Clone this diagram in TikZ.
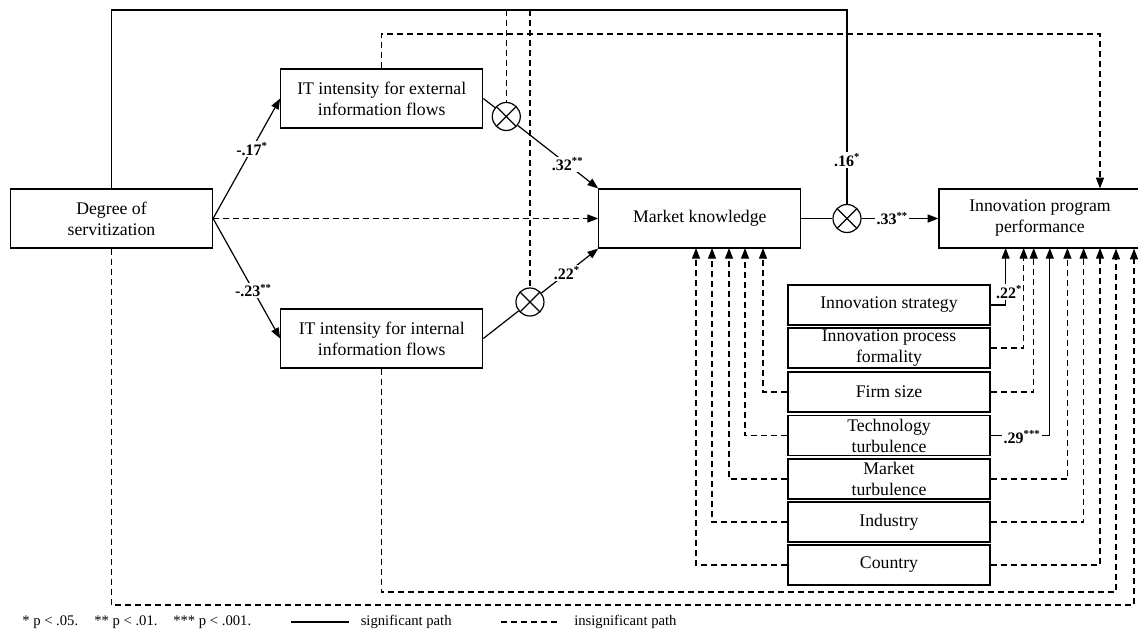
\documentclass[tikz,border=0pt]{standalone}
\usepackage{fontspec}
\setmainfont{Liberation Serif}
\usetikzlibrary{arrows.meta,calc}
\begin{document}
\begin{tikzpicture}[x=0.75pt,y=-0.75pt,
  box/.style={draw,line width=0.9pt,minimum width=151.5pt,minimum height=44.25pt,inner sep=0pt,align=center,font=\fontsize{13.3}{15.75}\selectfont},
  cbox/.style={box,minimum height=30pt},
  conn/.style={line width=0.9pt},
  dconn/.style={conn,dash pattern=on 4.5pt off 3pt},
  arr/.style={-{Triangle[length=8pt,width=6pt]}},
  lab/.style={fill=white,inner sep=1pt,font=\fontsize{12}{14}\selectfont\bfseries},
  mult/.style={draw,circle,line width=0.9pt,minimum size=21pt,inner sep=0pt,
    path picture={\draw[line width=0.9pt] (path picture bounding box.north west)--(path picture bounding box.south east) (path picture bounding box.south west)--(path picture bounding box.north east);}},
  leg/.style={font=\fontsize{11}{13}\selectfont,anchor=west,inner sep=0pt}
]
\useasboundingbox (0,0) rectangle (1138,631);

% main boxes
\node[box] (deg) at (111.5,218.5) {Degree of\\servitization};
\node[box] (ext) at (381.75,98.5) {IT intensity for external\\information flows};
\node[box] (int) at (381.75,338.5) {IT intensity for internal\\information flows};
\node[box] (mk) at (699.75,218.5) {Market knowledge};
\node[box] (ipp) at (1040,218.5) {Innovation program\\performance};

% control boxes
\node[cbox] (is)  at (889,305)   {Innovation strategy};
\node[cbox] (ipf) at (889,348)   {Innovation process\\formality};
\node[cbox] (fs)  at (889,392)   {Firm size};
\node[cbox] (tt)  at (889,435.5) {Technology\\turbulence};
\node[cbox] (mt)  at (889,479)   {Market\\turbulence};
\node[cbox] (ind) at (889,522)   {Industry};
\node[cbox] (cty) at (889,565)   {Country};

% moderator circles
\node[mult] (c1) at ($(ext.east)!0.2!(mk.north west)$) {};
\node[mult] (c2) at ($(int.east)!0.406!(mk.south west)$) {};
\node[mult] (c3) at (847,218.5) {};

% helper coordinates
\coordinate (tl) at (0,10);
\coordinate (dl) at (0,34);
\coordinate (ipx1) at (1100,0);
\coordinate (b1) at (1134,605);
\coordinate (b2) at (1116,592);

% top lines
\draw[conn] (deg.north) -- (deg.north |- tl) -- (c3.north |- tl) -- (c3.north);
\node[lab] at (847,160) {.16\textsuperscript{*}};
\draw[dconn] (c1.north |- tl) -- (c1.north);
\draw[dconn] (c2.north |- tl) -- (c2.north);
\draw[dconn,arr] (ext.north) -- (ext.north |- dl) -- (ipx1 |- dl) -- (ipx1 |- ipp.north);

% bottom lines
\draw[dconn,arr] (deg.south) -- (deg.south |- b1) -- (b1) -- (b1 |- ipp.south);
\draw[dconn,arr] (int.south) -- (int.south |- b2) -- (b2) -- (b2 |- ipp.south);

% main paths
\draw[conn,arr] (deg.east) -- node[lab,pos=0.58]{-.17\textsuperscript{*}} (ext.west);
\draw[conn,arr] (deg.east) -- node[lab,pos=0.6]{-.23\textsuperscript{**}} (int.west);
\draw[dconn,arr] (deg.east) -- (mk.west);
\draw[conn] (ext.east) -- (c1);
\draw[conn,arr] (c1) -- node[lab,pos=0.62]{.32\textsuperscript{**}} (mk.north west);
\draw[conn] (int.east) -- (c2);
\draw[conn,arr] (c2) -- node[lab,pos=0.45]{.22\textsuperscript{*}} (mk.south west);
\draw[conn] (mk.east) -- (c3);
\draw[conn,arr] (c3) -- node[lab,pos=0.4]{.33\textsuperscript{**}} (ipp.west);

% controls to IPP
\foreach \n/\x/\s in {is/1005.6/conn, ipf/1023.6/dconn, fs/1033.7/dconn, tt/1049.8/conn, mt/1067.4/dconn, ind/1083.6/dconn, cty/1100/dconn}
  \draw[\s,arr] (\n.east) -| (\x,248);
\node[lab] at (1009,292) {.22\textsuperscript{*}};
\node[lab] at (1022,437) {.29\textsuperscript{***}};

% controls to MK
\foreach \n/\x in {fs/763, tt/745, mt/729, ind/712, cty/696}
  \draw[dconn,arr] (\n.west) -| (\x,248);

% legend
\node[leg] at (22,622) {* p < .05.};
\node[leg] at (94,622) {** p < .01.};
\node[leg] at (173,622) {*** p < .001.};
\coordinate (l1a) at (291,622);
\coordinate (l1b) at (349,622);
\draw[conn] (l1a) -- (l1b);
\node[leg] at (360.5,622) {significant path};
\coordinate (l2a) at (501,622);
\coordinate (l2b) at (557,622);
\draw[dconn] (l2a) -- (l2b);
\node[leg] at (574,622) {insignificant path};
\end{tikzpicture}
\end{document}
